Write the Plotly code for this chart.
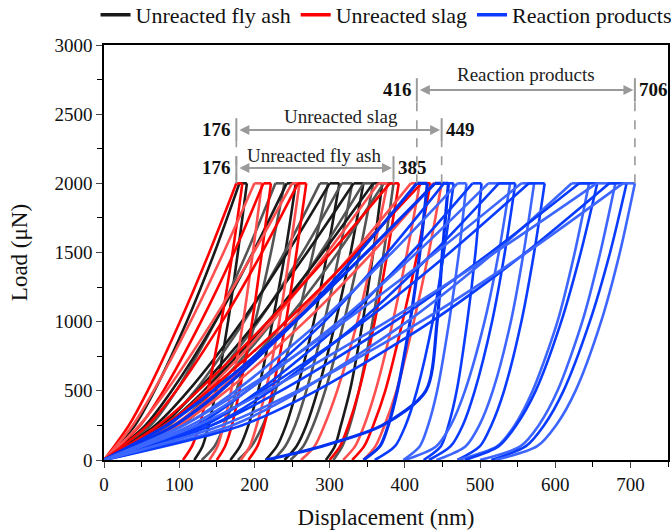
import plotly.graph_objects as go

# ---------------- data ----------------
LOAD_UP = [0, 250, 500, 1000, 1500, 2000]           # µN, loading branch levels
LOAD_DOWN = [2000, 1500, 1000, 500, 250, 100, 0]     # µN, unloading branch levels

# displacement (nm) at LOAD_UP for the loading branch of each indent
fly_ash_load = [
    [0, 41, 67, 110, 147, 180],
    [0, 62, 96, 148, 190, 228],
    [0, 55, 90, 148, 198, 243],
    [0, 78, 121, 186, 240, 287],
    [0, 68, 112, 183, 244, 300],
    [0, 86, 133, 205, 264, 316],
    [0, 75, 124, 203, 270, 332],
    [0, 94, 145, 224, 288, 345],
    [0, 81, 133, 218, 291, 358],
    [0, 102, 156, 241, 311, 372],
]
# displacement (nm) at LOAD_DOWN for the unloading branch
fly_ash_unload = [
    [190, 178, 165, 149, 139, 131, 120],
    [240, 222, 201, 176, 160, 147, 130],
    [255, 241, 224, 205, 192, 181, 168],
    [298, 278, 256, 228, 211, 196, 178],
    [313, 297, 279, 256, 242, 230, 215],
    [330, 313, 293, 269, 254, 241, 225],
    [345, 328, 308, 284, 269, 256, 240],
    [358, 340, 319, 294, 278, 265, 248],
    [370, 358, 344, 327, 315, 307, 295],
    [385, 372, 357, 339, 327, 317, 305],
]

slag_load = [
    [0, 33, 58, 101, 140, 176],
    [0, 38, 66, 115, 159, 200],
    [0, 48, 79, 129, 173, 212],
    [0, 47, 83, 144, 199, 250],
    [0, 58, 96, 157, 210, 258],
    [0, 82, 136, 223, 297, 365],
    [0, 72, 125, 218, 302, 380],
    [0, 92, 152, 249, 332, 408],
    [0, 80, 139, 242, 335, 422],
    [0, 99, 163, 267, 357, 438],
]
slag_unload = [
    [184, 171, 156, 138, 127, 117, 105],
    [210, 198, 185, 169, 159, 151, 140],
    [222, 210, 197, 180, 170, 161, 150],
    [260, 247, 233, 215, 203, 194, 182],
    [269, 256, 242, 224, 213, 204, 192],
    [377, 358, 337, 310, 293, 280, 262],
    [392, 377, 360, 339, 325, 314, 300],
    [420, 403, 384, 361, 346, 334, 318],
    [434, 417, 397, 374, 358, 346, 330],
    [449, 432, 412, 389, 373, 361, 345],
]

products_load = [
    [0, 94, 155, 254, 339, 416],
    [0, 83, 145, 253, 349, 440],
    [0, 123, 190, 293, 377, 452],
    [0, 106, 175, 287, 383, 470],
    [0, 134, 206, 318, 409, 490],
    [0, 115, 190, 312, 416, 511],
    [0, 143, 221, 340, 438, 525],
    [0, 105, 183, 319, 441, 555],
    [0, 128, 210, 345, 460, 565],
    [0, 170, 261, 403, 519, 622],
    [0, 143, 235, 386, 514, 632],
    [0, 124, 216, 376, 520, 655],
    [0, 183, 282, 435, 561, 672],
    [0, 156, 257, 421, 562, 690],
]
products_unload = [
    [430, 420, 407, 390, 378, 367, 345],
    [458, 450, 443, 428, 370, 290, 215],
    [465, 452, 437, 416, 401, 387, 360],
    [482, 472, 459, 443, 431, 420, 398],
    [502, 494, 483, 469, 458, 448, 425],
    [540, 525, 506, 480, 461, 442, 400],
    [547, 533, 516, 493, 477, 461, 432],
    [572, 558, 541, 517, 499, 481, 442],
    [586, 572, 555, 532, 515, 500, 470],
    [645, 626, 603, 570, 546, 523, 470],
    [656, 634, 608, 574, 548, 525, 480],
    [680, 660, 636, 603, 578, 554, 500],
    [695, 673, 646, 611, 585, 561, 515],
    [706, 686, 661, 627, 601, 576, 520],
]

# dimension-line annotations: (label, left value, right value)
ranges = [
    ("Unreacted fly ash", 176, 385),
    ("Unreacted slag", 176, 449),
    ("Reaction products", 416, 706),
]
range_levels = [2111, 2386, 2675]      # load level of each arrow (µN)

# ---------------- figure ----------------
FONT = "Liberation Serif, Times New Roman, serif"
GRAY = "#9a9a9a"
fig = go.Figure()

groups = [
    ("Unreacted fly ash", fly_ash_load, fly_ash_unload, ["#1a1a1a", "#555555"]),
    ("Unreacted slag", slag_load, slag_unload, ["#ff0000", "#ff5050"]),
    ("Reaction products", products_load, products_unload, ["#0a3cff", "#3d66ff"]),
]

for name, loads, unloads, cols in groups:
    for i, (lx, ux) in enumerate(zip(loads, unloads)):
        col = cols[i % 2]
        w = 2.6
        if name == "Reaction products" and i in (0, 1):
            col, w = "#0030f0", 3.2
        common = dict(mode="lines", legendgroup=name, name=name,
                      hoverinfo="skip", showlegend=False)
        fig.add_trace(go.Scatter(x=lx, y=LOAD_UP,
                                 line=dict(color=col, width=w, shape="spline", smoothing=0.8), **common))
        fig.add_trace(go.Scatter(x=[lx[-1], ux[0]], y=[LOAD_UP[-1], LOAD_DOWN[0]],
                                 line=dict(color=col, width=w), **common))
        fig.add_trace(go.Scatter(x=ux, y=LOAD_DOWN,
                                 line=dict(color=col, width=w, shape="spline", smoothing=0.8), **common))
    # legend entry
    fig.add_trace(go.Scatter(x=[None], y=[None], mode="lines", name=name, legendgroup=name,
                             line=dict(color=cols[0], width=3.5), showlegend=True))

shapes = []
annotations = []
bar_half = 85
for (label, lo, hi), lvl in zip(ranges, range_levels):
    for xv in (lo, hi):
        shapes.append(dict(type="line", xref="x", yref="y", x0=xv, x1=xv,
                           y0=lvl - bar_half, y1=lvl + bar_half,
                           line=dict(color=GRAY, width=2)))
        shapes.append(dict(type="line", xref="x", yref="y", x0=xv, x1=xv,
                           y0=2000, y1=lvl - bar_half,
                           line=dict(color=GRAY, width=1.6, dash="dash")))
    annotations.append(dict(x=hi - 2, y=lvl, ax=lo + 2, ay=lvl, xref="x", yref="y",
                            axref="x", ayref="y", text="", showarrow=True,
                            arrowhead=2, arrowside="end+start", arrowsize=1.0,
                            arrowwidth=2, arrowcolor=GRAY, standoff=0, startstandoff=0))

title_pos = [(279, 2198), (315, 2480), (561, 2784)]
for (label, lo, hi), (tx, ty) in zip(ranges, title_pos):
    annotations.append(dict(x=tx, y=ty, xref="x", yref="y", text=label, showarrow=False,
                            font=dict(family=FONT, size=19, color="#222222")))

num_font = dict(family=FONT, size=19, color="#111111")
for (label, lo, hi), lvl in zip(ranges, range_levels):
    annotations.append(dict(x=lo - 4, y=lvl, xref="x", yref="y", text=f"<b>{lo}</b>",
                            xanchor="right", showarrow=False, font=num_font))
    annotations.append(dict(x=hi + 3, y=lvl, xref="x", yref="y", text=f"<b>{hi}</b>",
                            xanchor="left", showarrow=False, font=num_font))

fig.update_layout(
    width=671, height=530,
    margin=dict(l=104, r=3, t=45, b=70, autoexpand=False),
    paper_bgcolor="white", plot_bgcolor="white",
    font=dict(family=FONT, size=18, color="#111111"),
    shapes=shapes, annotations=annotations,
    legend=dict(orientation="h", x=-0.015, y=1.022, yanchor="bottom", xanchor="left",
                font=dict(family=FONT, size=22, color="#111111"),
                bgcolor="rgba(0,0,0,0)", itemwidth=30, tracegroupgap=0),
    showlegend=True,
)
fig.update_xaxes(range=[0, 750], tick0=0, dtick=100, ticks="outside", ticklen=6, tickwidth=1.3,
                 showline=True, linecolor="black", linewidth=1.5, mirror=True,
                 showgrid=False, zeroline=False,
                 minor=dict(dtick=50, ticks="outside", ticklen=5, tickwidth=1.2, tickcolor="black"),
                 tickfont=dict(family=FONT, size=19),
                 title=dict(text="Displacement (nm)", font=dict(family=FONT, size=23), standoff=16))
fig.update_yaxes(range=[0, 3000], tick0=0, dtick=500, ticks="outside", ticklen=6, tickwidth=1.3,
                 showline=True, linecolor="black", linewidth=1.5, mirror=True,
                 showgrid=False, zeroline=False,
                 minor=dict(dtick=250, ticks="outside", ticklen=5, tickwidth=1.2, tickcolor="black"),
                 tickfont=dict(family=FONT, size=19),
                 title=dict(text="Load (μN)", font=dict(family=FONT, size=23), standoff=20))

fig.write_html("out.html")
